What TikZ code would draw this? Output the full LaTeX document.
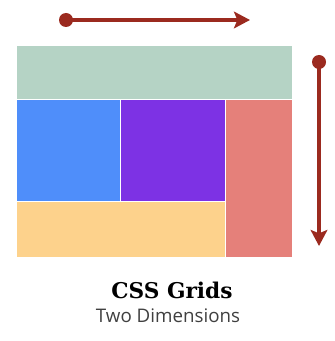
\documentclass[tikz,border=0pt]{standalone}
\usepackage{fontspec}
\usepackage{tikz}
\usetikzlibrary{arrows.meta,positioning}
\newfontfamily\slabfont{DejaVu Serif}
\newfontfamily\subfont{Open Sans}

\definecolor{headgreen}{HTML}{B5D3C5}
\definecolor{cellblue}{HTML}{4F8EFA}
\definecolor{cellpurple}{HTML}{7D32E4}
\definecolor{cellred}{HTML}{E5807A}
\definecolor{cellyellow}{HTML}{FDD28C}
\definecolor{axisred}{HTML}{9B2A1F}

\begin{document}
\begin{tikzpicture}[
  x=0.03cm, y=-0.03cm,
  cell/.style={
    draw=white,
    line width=0.6pt,
    inner sep=0pt,
    anchor=north west
  },
  axis/.style={
    -{Stealth[length=4.8mm,width=5mm,inset=1mm]},
    line width=2.6pt,
    axisred
  },
  dot/.style={
    circle,
    fill=axisred,
    inner sep=0pt,
    minimum size=4.2mm
  }
]

\useasboundingbox (0,0) rectangle (334,341);

% Grid cells
\node[cell, fill=headgreen, minimum width=276*0.03cm, minimum height=54*0.03cm]
  (header) at (16,45) {};
\node[cell, fill=cellblue, minimum width=104*0.03cm, minimum height=102*0.03cm]
  (blue) at (16,99) {};
\node[cell, fill=cellpurple, minimum width=105*0.03cm, minimum height=102*0.03cm]
  (purple) at (120,99) {};
\node[cell, fill=cellred, minimum width=67*0.03cm, minimum height=158*0.03cm]
  (side) at (225,99) {};
\node[cell, fill=cellyellow, minimum width=209*0.03cm, minimum height=56*0.03cm]
  (footer) at (16,201) {};

% Direction arrows
\node[dot] (rowstart) at (66,20) {};
\coordinate (rowend) at (250,20);
\draw[axis] (rowstart.center) -- (rowend);

\node[dot] (colstart) at (319,62) {};
\coordinate (colend) at (319,246);
\draw[axis] (colstart.center) -- (colend);

% Caption
\node[anchor=base, font=\slabfont\bfseries\fontsize{18.5}{20}\selectfont]
  (title) at (172,298) {CSS Grids};
\node[anchor=base, font=\subfont\fontsize{16}{18}\selectfont, text=black!75]
  (subtitle) at (168,322) {Two Dimensions};

\end{tikzpicture}
\end{document}
